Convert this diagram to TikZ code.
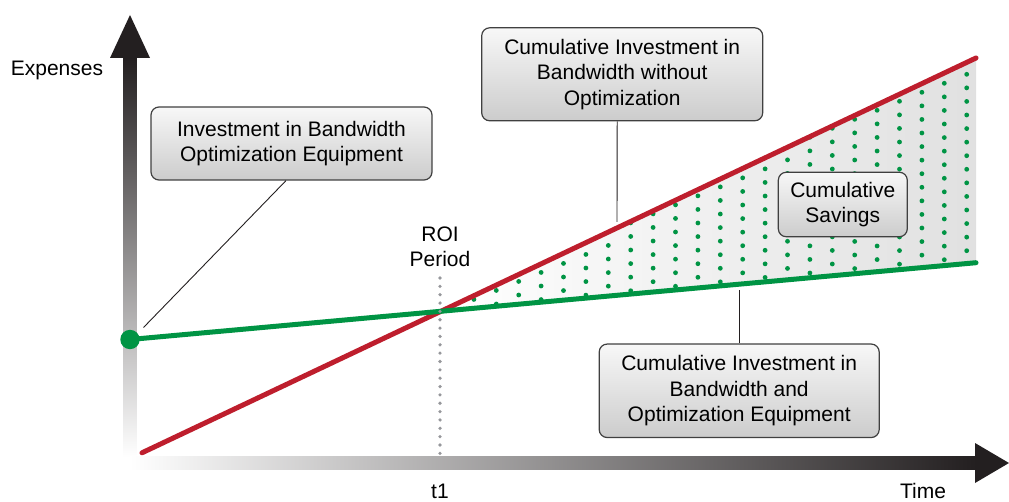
\documentclass[tikz,border=0pt]{standalone}
\usepackage{fontspec}
\setmainfont{Liberation Sans}
\usetikzlibrary{calc}

\definecolor{costred}{RGB}{190,30,45}
\definecolor{savegreen}{RGB}{0,148,68}
\definecolor{axisblack}{RGB}{35,31,32}
\definecolor{roigray}{RGB}{150,151,155}

\begin{document}
\begin{tikzpicture}[x=1pt, y=-1pt,
	callout/.style={draw=black!75, line width=1.2pt, rounded corners=8pt, top color=black!3, bottom color=black!20, align=center, font=\fontsize{21}{25.5}\selectfont, inner sep=0pt},
	lbl/.style={font=\fontsize{21}{25.5}\selectfont, inner sep=0pt},
	leader/.style={draw=axisblack, line width=0.9pt},
	cost/.style={line width=5pt, line cap=round}]
	\useasboundingbox (0,0) rectangle (1009,502);

	% axes
	\shade [top color=axisblack, bottom color=white] (123.5,58) rectangle (136.5,457);
	\fill [axisblack] (110,58) -- (130,15) -- (150,58) -- cycle;
	\shade [left color=white, right color=axisblack] (130,456.5) rectangle (976,469.5);
	\fill [axisblack] (975,443) -- (1009,463) -- (975,483) -- cycle;

	\coordinate (roi) at (440,311.5);
	\coordinate (r0) at (142,452.8);
	\coordinate (r1) at (976,58);
	\coordinate (g1) at (976,262.7);
	\node [circle, fill=savegreen, minimum size=19.4pt, inner sep=0pt] (start) at (130,339.5) {};

	% savings area
	\shade [left color=white, right color=black!12] (roi) -- (r1) -- (g1) -- cycle;
	\begin{scope}
		\clip (roi) -- (r1) -- (g1) -- cycle;
		\foreach \i in {0,...,23}
			\foreach \j in {-16,...,15}
				\fill [savegreen] ({966.7-22.4*\i}, {74.3+9*\i+13.57*\j}) circle (2.4pt);
	\end{scope}

	\draw [cost, costred] (r0) -- (r1);
	\draw [cost, savegreen] (start.center) -- (g1);

	\coordinate (roitop) at (440,278);
	\coordinate (roibot) at (440,454);
	\draw [roigray, line width=3.6pt, line cap=round, dash pattern=on 0pt off 8.35pt] (roitop) -- (roibot);

	\node [lbl, anchor=base] (ylbl) at (57,76) {Expenses};
	\node [lbl, align=center] (roilbl) at (440,247) {ROI\\Period};
	\node [lbl, anchor=base] (t1lbl) at (440,498) {t1};
	\node [lbl, anchor=base] (xlbl) at (923,498) {Time};

	\node [callout, minimum width=281pt, minimum height=73pt] (equipbox) at (291.5,143.5) {Investment in Bandwidth\\Optimization Equipment};
	\node [callout, minimum width=281pt, minimum height=93pt] (nooptbox) at (622.2,74.3) {Cumulative Investment in\\Bandwidth without\\Optimization};
	\node [callout, minimum width=129pt, minimum height=64.5pt] (savebox) at (842.8,204.5) {Cumulative\\Savings};
	\node [callout, minimum width=280pt, minimum height=93.5pt] (optbox) at (739.2,390.8) {Cumulative Investment in\\Bandwidth and\\Optimization Equipment};

	\coordinate (startpt) at (143.5,327.5);
	\coordinate (redpt) at (617,222);
	\coordinate (greenpt) at (739.2,290.5);
	\draw [leader] ($(equipbox.south)+(-5.5,0)$) -- (startpt);
	\draw [leader] ($(nooptbox.south)+(-5,0)$) -- (redpt);
	\draw [leader] (optbox.north) -- (greenpt);
\end{tikzpicture}
\end{document}
